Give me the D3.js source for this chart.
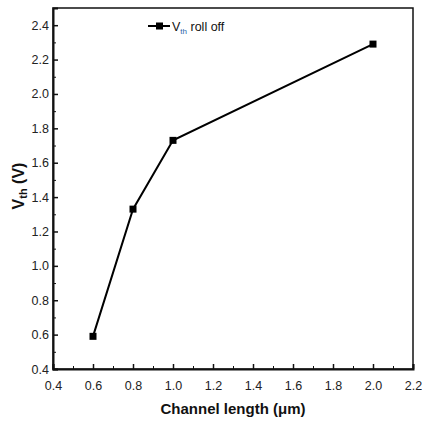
<!DOCTYPE html>
<html>
<head>
<meta charset="utf-8" />
<title>Vth roll off</title>
<script src="https://d3js.org/d3.v7.min.js"></script>
<style>
    body { margin: 0; background: white; }
    svg { display: block; font-family: "Liberation Sans", Arial, sans-serif; }
    .tick text { font-size: 12.5px; fill: #222; }
    .axis path, .axis line { stroke: #111; }
</style>
</head>
<body>
<div id="container"></div>
<script>
// channel length (um) vs threshold voltage (V)
var lengths = [0.6, 0.8, 1.0, 2.0];
var vth = [0.59, 1.33, 1.73, 2.29];
var xTicks = [0.4, 0.6, 0.8, 1.0, 1.2, 1.4, 1.6, 1.8, 2.0, 2.2];
var yTicks = [0.4, 0.6, 0.8, 1.0, 1.2, 1.4, 1.6, 1.8, 2.0, 2.2, 2.4];

var W = 422, H = 429;
var margin = {top: 8, right: 9, bottom: 60, left: 53};
var width = W - margin.left - margin.right,
    height = H - margin.top - margin.bottom;

var svg = d3.select("#container").append("svg")
    .attr("width", W).attr("height", H);

var g = svg.append("g")
    .attr("transform", "translate(" + margin.left + "," + margin.top + ")");

var x = d3.scaleLinear().domain([0.4, 2.2]).range([0, width]);
var y = d3.scaleLinear().domain([0.4, 2.5]).range([height, 0]);

// frame
g.append("rect")
    .attr("width", width).attr("height", height)
    .attr("fill", "none").attr("stroke", "#111").attr("stroke-width", 1.5);

// minor ticks (inward)
var xMinor = d3.range(0.5, 2.2, 0.2);
var yMinor = d3.range(0.5, 2.5, 0.2);
g.append("g").attr("class", "axis")
    .attr("transform", "translate(0," + height + ")")
    .call(d3.axisBottom(x).tickValues(xMinor).tickSize(-3).tickFormat(""))
    .call(function(s) { s.select(".domain").remove(); });
g.append("g").attr("class", "axis")
    .call(d3.axisLeft(y).tickValues(yMinor).tickSize(-3).tickFormat(""))
    .call(function(s) { s.select(".domain").remove(); });

// major ticks
var xAxis = g.append("g").attr("class", "axis")
    .attr("transform", "translate(0," + height + ")")
    .call(d3.axisBottom(x).tickValues(xTicks).tickSize(-5).tickPadding(12)
        .tickFormat(d3.format(".1f")));
xAxis.select(".domain").attr("stroke-width", 2);
xAxis.selectAll(".tick line").attr("stroke-width", 1.5);

var yAxis = g.append("g").attr("class", "axis")
    .call(d3.axisLeft(y).tickValues(yTicks).tickSize(-5).tickPadding(4)
        .tickFormat(d3.format(".1f")));
yAxis.select(".domain").attr("stroke-width", 2);
yAxis.selectAll(".tick line").attr("stroke-width", 1.5);

// data line
var pts = lengths.map(function(d, i) { return [d, vth[i]]; });
g.append("path")
    .datum(pts)
    .attr("fill", "none")
    .attr("stroke", "#000")
    .attr("stroke-width", 2)
    .attr("d", d3.line()
        .x(function(d) { return x(d[0]); })
        .y(function(d) { return y(d[1]); }));

g.selectAll(".pt")
    .data(pts)
    .enter().append("rect")
    .attr("class", "pt")
    .attr("x", function(d) { return x(d[0]) - 3.5; })
    .attr("y", function(d) { return y(d[1]) - 3.5; })
    .attr("width", 7).attr("height", 7)
    .attr("fill", "#000");

// legend
var lg = svg.append("g").attr("transform", "translate(148,26)");
lg.append("line").attr("x1", 0).attr("x2", 22).attr("y1", 0).attr("y2", 0)
    .attr("stroke", "#000").attr("stroke-width", 2);
lg.append("rect").attr("x", 8).attr("y", -3.5).attr("width", 7).attr("height", 7)
    .attr("fill", "#000");
var lt = lg.append("text").attr("x", 24).attr("y", 4.5)
    .attr("font-size", "12.5px").attr("fill", "#111");
lt.append("tspan").text("V");
lt.append("tspan").attr("dy", 3).attr("font-size", "8px").attr("fill", "#2a64a8").text("th");
lt.append("tspan").attr("dy", -3).text(" roll off");

// axis titles
svg.append("text")
    .attr("x", 233)
    .attr("y", 414)
    .attr("text-anchor", "middle")
    .attr("font-size", "15px")
    .attr("font-weight", "bold")
    .attr("fill", "#111")
    .text("Channel length (\u03bcm)");

var yt = svg.append("text")
    .attr("transform", "translate(24,186) rotate(-90)")
    .attr("text-anchor", "middle")
    .attr("font-size", "16px")
    .attr("font-weight", "bold")
    .attr("fill", "#111");
yt.append("tspan").text("V");
yt.append("tspan").attr("dy", 3).attr("font-size", "11px").text("th");
yt.append("tspan").attr("dy", -3).text(" (V)");
</script>
</body>
</html>
